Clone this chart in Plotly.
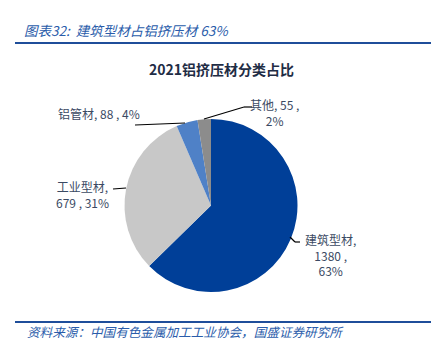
import plotly.graph_objects as go

labels = ["建筑型材", "工业型材", "铝管材", "其他"]
values = [1380, 679, 88, 55]
pcts = ["63%", "31%", "4%", "2%"]
colors = ["#003F98", "#C8C8C8", "#4F81C7", "#8C8C8C"]

W, H = 443, 351
def px(x): return x / W
def py(y): return 1 - y / H

fig = go.Figure()
fig.add_trace(go.Pie(
    labels=labels, values=values, sort=False, direction="clockwise", rotation=0,
    marker=dict(colors=colors, line=dict(width=0)),
    textinfo="none", hoverinfo="label+value+percent", showlegend=False,
    domain=dict(x=[px(124), px(298)], y=[py(292), py(119)]),
))

cjk = "Noto Sans CJK SC"
tc = "#3B4A63"
ann = [
    (330, 255, f"{labels[0]},<br>{values[0]} ,<br>{pcts[0]}"),
    (82, 194, f"{labels[1]},<br>{values[1]} , {pcts[1]}"),
    (99, 114, f"{labels[2]}, {values[2]} , {pcts[2]}"),
    (274, 112, f"{labels[3]}, {values[3]} ,<br>{pcts[3]}"),
]
annotations = []
for x, y, t in ann:
    annotations.append(dict(x=px(x), y=py(y), xref="paper", yref="paper", text=t,
                            showarrow=False, xanchor="center", yanchor="middle",
                            font=dict(family=cjk, size=12, color=tc), align="center"))
annotations.append(dict(x=px(221), y=py(69), xref="paper", yref="paper",
                        xanchor="center", yanchor="middle",
                        text="<b>2021铝挤压材分类占比</b>", showarrow=False,
                        font=dict(family=cjk, size=14, color="#1F2D45")))
annotations.append(dict(x=px(22), y=py(30), xref="paper", yref="paper",
                        xanchor="left", yanchor="middle",
                        text="<i>图表32:  建筑型材占铝挤压材 63%</i>", showarrow=False,
                        font=dict(family=cjk, size=13.5, color="#2A5CAA")))
annotations.append(dict(x=px(25), y=py(331), xref="paper", yref="paper",
                        xanchor="left", yanchor="middle",
                        text="<i>资料来源：中国有色金属加工工业协会，国盛证券研究所</i>", showarrow=False,
                        font=dict(family=cjk, size=12.6, color="#2A5CAA")))

def line(x0, y0, x1, y1, color="black", w=1.2):
    return dict(type="line", xref="paper", yref="paper", x0=px(x0), y0=py(y0),
                x1=px(x1), y1=py(y1), line=dict(color=color, width=w))

shapes = [
    line(15, 43, 431, 43, "#1F4E9A", 2),
    line(15, 322, 431, 322, "#1F4E9A", 2),
    line(135, 125, 185, 123),
    line(113, 189, 126, 188),
    line(252, 107, 244, 107),
    line(244, 107, 204, 119),
    line(290, 237, 295, 242),
    line(295, 242, 300, 242),
]

fig.update_layout(width=W, height=H, margin=dict(l=0, r=0, t=0, b=0),
                  paper_bgcolor="white", plot_bgcolor="white",
                  annotations=annotations, shapes=shapes)
fig.write_html("out.html")
